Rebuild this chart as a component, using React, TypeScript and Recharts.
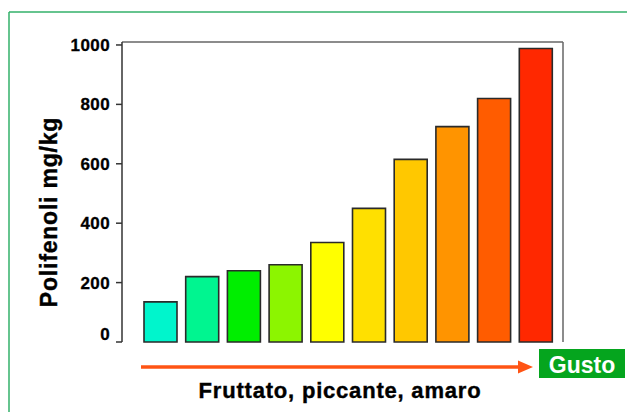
import React from 'react';
import { BarChart, Bar, XAxis, YAxis, Cell } from 'recharts';

if (typeof document !== 'undefined') document.body.style.margin = '0';

const categories = ['1', '2', '3', '4', '5', '6', '7', '8', '9', '10'];
const polifenoli = [135, 220, 240, 260, 335, 450, 615, 725, 820, 988];
const barColors = ['#00f5cc', '#00f590', '#00ee00', '#8cf500', '#ffff00', '#ffe000', '#ffc800', '#ff9400', '#ff5c00', '#ff2800'];
const yTicks = [0, 200, 400, 600, 800, 1000];

const data = categories.map((c, i) => ({ name: c, value: polifenoli[i] }));

const FONT = '"Liberation Sans", Arial, sans-serif';

const YTick = (props: any) => {
  const { x, y, payload } = props;
  const lift = payload.value === 0 ? -8 : 0;
  return (
    <text x={x} y={y + lift} dy="0.36em" textAnchor="end" fill="#000" fontFamily={FONT} fontWeight="bold" fontSize={17} letterSpacing={0.4} stroke="#000" strokeWidth={0.3}>
      {payload.value}
    </text>
  );
};

export default function App() {
  return (
    <div style={{ position: 'relative', width: 627, height: 412, background: '#fff', overflow: 'hidden' }}>
      <BarChart width={627} height={412} data={data} margin={{ top: 41, right: 63, bottom: 70, left: 0 }} barCategoryGap={0}>
        <XAxis dataKey="name" xAxisId={0} tick={false} tickLine={false} height={0} axisLine={{ stroke: '#222', strokeWidth: 2 }} padding={{ left: 18, right: 6 }} />
        <XAxis dataKey="name" xAxisId="top" orientation="top" tick={false} tickLine={false} height={1} axisLine={{ stroke: '#666', strokeWidth: 1.5 }} />
        <YAxis yAxisId={0} domain={[0, 1010]} ticks={yTicks} interval={0} width={122} tickSize={6} tickMargin={6} tick={<YTick />} tickLine={{ stroke: '#333', strokeWidth: 1.5 }} axisLine={{ stroke: '#333', strokeWidth: 1.5 }} />
        <YAxis yAxisId="right" orientation="right" width={1} domain={[0, 1010]} tick={false} tickLine={false} axisLine={{ stroke: '#666', strokeWidth: 1.5 }} />
        <Bar dataKey="value" xAxisId={0} yAxisId={0} barSize={33} stroke="#2a2a2a" strokeWidth={1.6} isAnimationActive={false}>
          {data.map((d, i) => (
            <Cell key={d.name} fill={barColors[i]} />
          ))}
        </Bar>
      </BarChart>
      <svg width={627} height={412} style={{ position: 'absolute', left: 0, top: 0, pointerEvents: 'none' }}>
        <line x1={9} y1={12} x2={9} y2={412} stroke="#33b06a" strokeWidth={1.5} />
        <line x1={9} y1={12} x2={627} y2={12} stroke="#33b06a" strokeWidth={1.5} />
        <text x={49} y={212} transform="rotate(-90 49 212)" textAnchor="middle" dominantBaseline="central" fontFamily={FONT} fontWeight="bold" fontSize={23} letterSpacing={0.8} fill="#000" stroke="#000" strokeWidth={0.4}>
          Polifenoli mg/kg
        </text>
        <line x1={141} y1={367} x2={522} y2={367} stroke="#ff5414" strokeWidth={3.5} />
        <polygon points="518,360.5 533,367 518,373.5" fill="#ff5414" />
        <rect x={539} y={349} width={86} height={29} fill="#05a51e" />
        <text x={582} y={372.5} textAnchor="middle" fontFamily={FONT} fontWeight="bold" fontSize={23} fill="#fff">
          Gusto
        </text>
        <text x={340} y={398} textAnchor="middle" fontFamily={FONT} fontWeight="bold" fontSize={22} letterSpacing={0.8} fill="#000" stroke="#000" strokeWidth={0.4}>
          Fruttato, piccante, amaro
        </text>
      </svg>
    </div>
  );
}
